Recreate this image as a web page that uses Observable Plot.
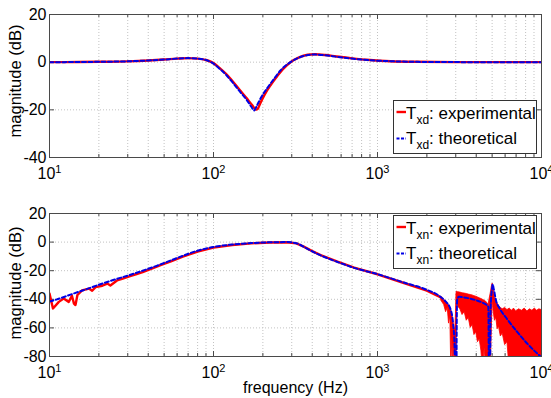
<!DOCTYPE html>
<html>
<head>
<meta charset="utf-8">
<script src="https://cdn.jsdelivr.net/npm/d3@7"></script>
<script src="https://cdn.jsdelivr.net/npm/@observablehq/plot@0.6"></script>
<style>
  html, body { margin: 0; padding: 0; background: #fff; overflow: hidden; }
  #wrap { position: relative; width: 551px; height: 398px; overflow: hidden; font-family: "Liberation Sans", Arial, sans-serif; }
  #wrap svg { display: block; }
  .legend { position: absolute; }
</style>
</head>
<body>
<div id="wrap">
  <div id="top"></div>
  <div id="bot"></div>
</div>
<script>
// ---------- data ----------
const xMajor = [10, 100, 1000, 10000];
const xMinor = [20, 30, 40, 50, 60, 70, 80, 90, 200, 300, 400, 500, 600, 700, 800, 900, 2000, 3000, 4000, 5000, 6000, 7000, 8000, 9000];
const topYTicks = [20, 0, -20, -40];
const botYTicks = [20, 0, -20, -40, -60, -80];
const yLabel = "magnitude (dB)";
const xLabel = "frequency (Hz)";
const legendSubs = ["xd", "xn"];
const legendKinds = ["experimental", "theoretical"];

// Txd (top)
const txdExpFreq = [10, 15, 20, 30, 40, 50, 60, 70, 80, 90, 100, 110, 120, 130, 145, 160, 172, 182, 186, 192, 205, 222, 245, 265, 295, 330, 375, 415, 480, 560, 700, 900, 1200, 1700, 3000, 10000];
const txdExpDb   = [0, 0.05, 0.15, 0.35, 0.7, 1.1, 1.5, 1.7, 1.5, 0.9, -0.4, -2.7, -5.1, -7.8, -11.8, -15.3, -18, -19.9, -19.6, -17.5, -13.6, -9.8, -5.8, -2.9, 0, 1.9, 3.1, 3.3, 3.0, 2.4, 1.6, 0.9, 0.4, 0.15, 0.02, 0];
const txdThFreq  = [10, 15, 20, 30, 40, 50, 60, 70, 80, 90, 100, 110, 120, 130, 145, 160, 170, 177, 183, 195, 212, 235, 256, 290, 324, 370, 410, 480, 560, 700, 900, 1200, 1700, 3000, 10000];
const txdThDb    = [0, 0.05, 0.15, 0.35, 0.7, 1.1, 1.5, 1.7, 1.5, 0.9, -0.6, -3.0, -5.5, -8.3, -12.4, -16, -18.7, -20.3, -18.5, -14.8, -11, -6.8, -3.5, -0.3, 1.6, 2.9, 3.2, 2.9, 2.3, 1.5, 0.8, 0.4, 0.15, 0.02, 0];

// Txn (bottom)
const txnExpFreq = [10, 10.5, 11.4, 12.2, 13.1, 13.7, 14.1, 14.4, 14.8, 15.8, 17.4, 18.2, 19.1, 21, 22.5, 23.5, 25.8, 28, 31, 34, 37, 42, 48, 55, 65, 80, 100, 130, 170, 220, 280, 320, 355, 400, 450, 570, 720, 1000, 1450, 2000, 2450];
const txnExpDb   = [-36, -46.4, -41.8, -39.5, -41.8, -37.5, -43, -44, -37, -33.8, -32.5, -34, -31.5, -30.5, -29, -30.3, -26.8, -25.5, -23.8, -22.3, -21, -18.6, -16, -13.5, -10.2, -6.6, -3.9, -2, -0.9, -0.3, -0.1, -0.9, -3.2, -6.3, -9.1, -13.7, -17.9, -22.5, -28.6, -34, -38.8];
const txnThFreq  = [10, 11, 12.5, 15, 17.5, 20, 25, 30, 37, 45, 55, 65, 80, 100, 130, 170, 220, 280, 320, 355, 400, 450, 570, 720, 1000, 1450, 2000, 2420, 2600, 2780, 2890, 2950, 2990, 3030, 3040, 3060, 3130, 3500, 3870, 4300, 4740, 4790, 4840, 4900, 5000, 5040, 5100, 5300, 5530, 6170, 7110, 8180, 9420, 10000];
const txnThDb    = [-41.5, -40.2, -38, -34.8, -32.2, -29.8, -26.2, -23.4, -20, -16.6, -12.8, -9.6, -6, -3.4, -1.7, -0.7, -0.15, 0, -0.8, -3.3, -6.5, -9.3, -13.9, -18, -22.4, -28.3, -33.4, -38.2, -41.5, -46.5, -57, -72, -100, -100, -60, -40.5, -38.3, -39, -40.2, -42, -45.3, -100, -100, -45, -32, -29.5, -32, -41.5, -46, -53.8, -62.8, -70.9, -77.9, -80.5];

// red noisy band of the experimental Txn (upper / lower envelope)
const noiseFreq = [2450, 2550, 2620, 2680, 2730, 2780, 2820, 2860, 2900, 2940, 2980, 3010, 3030, 3050, 3100, 3200, 3300, 3400, 3500, 3600, 3700, 3800, 3900, 4000, 4100, 4200, 4300, 4400, 4500, 4600, 4700, 4760, 4820, 4900, 4980, 5040, 5100, 5200, 5300, 5400, 5500, 5650, 5800, 6000, 6200, 6400, 6600, 6800, 7000, 7300, 7600, 7900, 8200, 8500, 8800, 9100, 9400, 9700, 10000];
const noiseHigh = [-38.8, -40.5, -41.5, -43, -44.5, -46, -48, -51, -55, -60, -62, -50, -36, -34.6, -35, -35.3, -35.8, -36, -36.3, -36.7, -37, -37.3, -37.8, -38.2, -38.7, -39.3, -39.8, -40.4, -41, -41.7, -43, -44, -40, -36, -31, -29, -33, -38.5, -41.5, -43, -44.5, -46, -47, -46, -47.5, -46.5, -48, -46.5, -48.5, -47, -48, -46.5, -48.5, -47, -48, -46.5, -48, -47, -47.5];
const noiseLow  = [-41, -44, -49, -46, -57, -52, -90, -66, -90, -72, -90, -90, -90, -42, -45, -47, -51, -49, -55, -53, -60, -58, -65, -63, -70, -68, -76, -90, -74, -90, -90, -90, -90, -90, -60, -40, -48, -55, -53, -61, -59, -66, -64, -72, -70, -90, -90, -82, -90, -90, -90, -90, -90, -90, -90, -90, -90, -90, -90];

// ---------- tables ----------
const toRows = (fs, vs) => fs.map((f, i) => ({f, v: vs[i]}));
const noiseRows = noiseFreq.map((f, i) => ({f, lo: noiseLow[i], hi: noiseHigh[i]}));

const RED = "#ff0000";
const BLUE = "#0000e6";
const GRID = "#c2c2c2";
const AX = "#4a4a4a";
const FONT = "'Liberation Sans', Arial, Helvetica, sans-serif";

function chart({height, marginTop, marginBottom, yDomain, yTicks, exp, th, noise, xTitle, ylDy}) {
  const W = 551, ML = 49, MR = 10;
  const fh = height - marginTop - marginBottom;
  const fw = W - ML - MR;
  const marks = [
    Plot.ruleX([...xMinor, ...xMajor], {x: d => d, stroke: GRID, strokeWidth: 1, strokeDasharray: "1,2"}),
    Plot.ruleY(yTicks, {y: d => d, stroke: GRID, strokeWidth: 1, strokeDasharray: "1,2"}),
    // inward ticks
    Plot.tickX(xMinor, {x: d => d, stroke: AX, insetTop: fh - 3}),
    Plot.tickX(xMinor, {x: d => d, stroke: AX, insetBottom: fh - 3}),
    Plot.tickX(xMajor, {x: d => d, stroke: AX, insetTop: fh - 5}),
    Plot.tickX(xMajor, {x: d => d, stroke: AX, insetBottom: fh - 5}),
    Plot.tickY(yTicks, {y: d => d, stroke: AX, insetRight: fw - 5}),
    Plot.tickY(yTicks, {y: d => d, stroke: AX, insetLeft: fw - 5}),
    Plot.line(exp, {x: "f", y: "v", stroke: RED, strokeWidth: 2.4, curve: noise ? "linear" : "monotone-x", clip: true})
  ];
  if (noise) {
    marks.push(Plot.areaY(noise, {x: "f", y1: "lo", y2: "hi", fill: RED, stroke: RED, strokeWidth: 0.8, clip: true}));
  }
  marks.push(
    Plot.line(th, {x: "f", y: "v", stroke: BLUE, strokeWidth: 2, strokeDasharray: "4,2.5", curve: "monotone-x", clip: true}),
    Plot.frame({stroke: AX, strokeWidth: 1}),
    Plot.axisX({ticks: xMajor, tickSize: 0, tickPadding: 10, tickFormat: d => String(Math.round(Math.log10(d)))}),
    Plot.axisY({ticks: yTicks, tickSize: 0, tickPadding: 3, tickFormat: d => String(d)}),
    Plot.text([yLabel], {frameAnchor: "left", textAnchor: "middle", lineAnchor: "middle", rotate: -90, dx: -34, dy: ylDy, fontSize: 16.5, fill: "black"})
  );
  if (xTitle) {
    marks.push(Plot.text([xTitle], {frameAnchor: "bottom", textAnchor: "middle", lineAnchor: "middle", dy: 31, fontSize: 16, fill: "black"}));
  }
  const svg = Plot.plot({
    width: W, height, marginLeft: ML, marginRight: MR, marginTop, marginBottom,
    x: {type: "log", domain: [10, 10000], label: null},
    y: {domain: yDomain, label: null},
    style: {fontFamily: FONT, fontSize: "16px", background: "white", color: "black", overflow: "visible"},
    marks
  });
  // superscript exponents on x tick labels: 10^n
  svg.querySelectorAll('g[aria-label="x-axis tick label"] text').forEach(t => {
    const e = t.textContent;
    t.textContent = "10";
    const ts = document.createElementNS("http://www.w3.org/2000/svg", "tspan");
    ts.setAttribute("dy", "-6");
    ts.setAttribute("font-size", "11");
    ts.textContent = e;
    t.appendChild(ts);
  });
  return svg;
}

document.getElementById("top").appendChild(chart({
  height: 195, marginTop: 14, marginBottom: 38, yDomain: [-40, 20], yTicks: topYTicks,
  exp: toRows(txdExpFreq, txdExpDb), th: toRows(txdThFreq, txdThDb), noise: null, xTitle: null, ylDy: -5
}));
document.getElementById("bot").appendChild(chart({
  height: 203, marginTop: 18, marginBottom: 42, yDomain: [-80, 20], yTicks: botYTicks,
  exp: toRows(txnExpFreq, txnExpDb), th: toRows(txnThFreq, txnThDb), noise: noiseRows, xTitle: xLabel, ylDy: -2
}));

// ---------- legends ----------
function legend(left, top, sub) {
  const svg = d3.create("svg")
    .attr("class", "legend")
    .attr("width", 145).attr("height", 55)
    .style("left", left + "px").style("top", top + "px")
    .attr("font-family", FONT);
  svg.append("rect").attr("x", 0.5).attr("y", 0.5).attr("width", 143).attr("height", 53)
    .attr("fill", "white").attr("stroke", "#333").attr("stroke-width", 1);
  const rows = [
    {kind: legendKinds[0], color: RED, dash: null, w: 2.4, ly: 12, ty: 18.5},
    {kind: legendKinds[1], color: BLUE, dash: "3,1.5", w: 2, ly: 38.5, ty: 43.5}
  ];
  rows.forEach(r => {
    svg.append("line").attr("x1", 3.5).attr("x2", 13).attr("y1", r.ly).attr("y2", r.ly)
      .attr("stroke", r.color).attr("stroke-width", r.w).attr("stroke-dasharray", r.dash);
    const t = svg.append("text").attr("x", 13).attr("y", r.ty).attr("font-size", 17).attr("fill", "black");
    t.append("tspan").text("T");
    t.append("tspan").attr("dy", 5).attr("font-size", 12).text(sub);
    t.append("tspan").attr("dy", -5).text(": " + r.kind);
  });
  document.getElementById("wrap").appendChild(svg.node());
}
legend(393, 100, legendSubs[0]);
legend(393, 215, legendSubs[1]);
</script>
</body>
</html>
